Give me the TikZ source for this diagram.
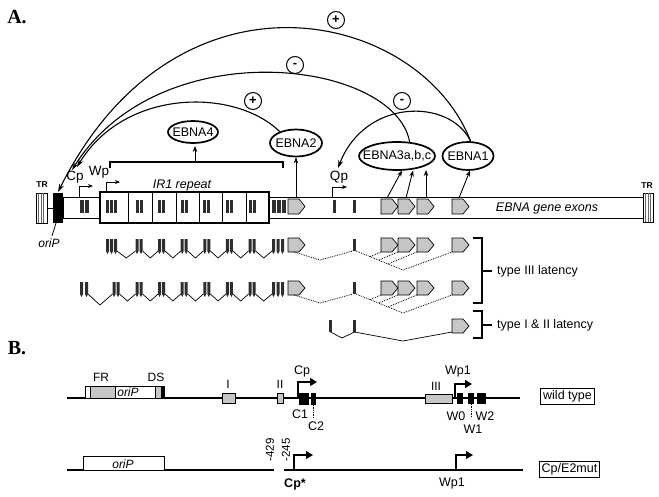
\documentclass[tikz,border=0pt]{standalone}
\usepackage{fontspec}
\setmainfont{Liberation Sans}
\newfontfamily\serifbf{Liberation Serif}
\usetikzlibrary{shapes.geometric,arrows.meta,calc}
\newcommand\pentx[3]{\draw[pent] (#1,#2) -- ({#1+11},#2) -- ({#1+17},{(#2+#3)/2}) -- ({#1+11},#3) -- (#1,#3) -- cycle;}
\newcommand\mbar[2]{\fill[exonfill] (#1,200) rectangle ({#1+#2},213);}
\newcommand\rbar[2]{\fill[exonfill] (#1,#2) -- ({#1+3},#2) -- ({#1+3},{#2+12}) -- ({#1+1.5},{#2+15}) -- (#1,{#2+12}) -- cycle;}
\newcommand\ptxt[1]{\makebox[0pt]{#1}}
\tikzset{
  fs/.style={font=\fontsize{#1}{#1}\selectfont},
  lbl/.style={inner sep=0pt, font=\fontsize{12.5}{14}\selectfont},
  prot/.style={draw, ellipse, line width=1.7pt, inner sep=0pt, font=\fontsize{12.5}{14}\selectfont},
  exonfill/.style={fill=black!82},
  pent/.style={fill=gray!45, draw=black, line width=0.7pt},
  arr/.style={-{Stealth[length=6pt,width=4.5pt]}, line width=0.9pt},
  arcl/.style={-{Stealth[length=8pt,width=5pt]}, line width=1.1pt},
  sgn/.style={circle, draw, line width=1pt, minimum size=17pt, inner sep=0pt, font=\bfseries\fontsize{13}{13}\selectfont},
  spl/.style={line width=0.7pt},
  dots/.style={densely dotted, line width=0.8pt},
  brk/.style={line width=1.6pt},
  prom/.style={line width=0.9pt, -{Stealth[length=5pt,width=4pt]}},
  promB/.style={line width=1.2pt, -{Triangle[length=7pt,width=8pt]}},
  chrom/.style={line width=1.5pt},
  tagbox/.style={draw, line width=0.8pt, inner sep=2.5pt, font=\fontsize{12.5}{14}\selectfont},
}
\begin{document}
\begin{tikzpicture}[x=1pt,y=-1pt]
\useasboundingbox (0,0) rectangle (659,496);
\fill[white] (0,0) rectangle (659,496);

\node[font=\serifbf\bfseries\fontsize{20}{20}\selectfont] (labA) at (17,17) {A.};
\node[font=\serifbf\bfseries\fontsize{20}{20}\selectfont] (labB) at (17,348) {B.};

% ---------- main genome bar ----------
\draw[line width=0.8pt] (47,208) -- (53,208);
\draw[line width=0.8pt, fill=white] (63,197) rectangle (643,218);
\draw[line width=0.8pt, fill=white] (36,193) rectangle (47,223);
\foreach \x in {38.5,41,43.5} \draw[line width=0.5pt, black!60] (\x,193) -- (\x,223);
\draw[line width=0.8pt, fill=white] (643,193) rectangle (653,222);
\foreach \x in {645.5,648,650.5} \draw[line width=0.5pt, black!60] (\x,193) -- (\x,222);
\fill (53,193) rectangle (63,223);
\node[font=\bfseries\fontsize{8.5}{9}\selectfont, inner sep=0pt] (trL) at (42,185) {TR};
\node[font=\bfseries\fontsize{8.5}{9}\selectfont, inner sep=0pt] (trR) at (647,186) {TR};
\node[lbl, font=\itshape\fontsize{12}{14}\selectfont] (oriPl) at (49,243) {oriP};
\draw[line width=0.8pt] (56,223) -- (52,236);

% IR1 repeat box
\draw[line width=1.6pt, fill=white] (100,192) rectangle (269,223);
\foreach \x in {128,152,176,199,222,246} \draw[line width=0.8pt] (\x,192) -- (\x,223);
\node[lbl, font=\itshape\fontsize{12.5}{14}\selectfont] (ir1) at (182,185) {IR1 repeat};

% exons on main bar
\mbar{80}{3.5}\mbar{85}{3.5}
\mbar{106}{3}\mbar{110}{3}\mbar{114}{3}
\foreach \c in {139,161.6,184.2,206.8,229.4,252} {\mbar{\c-3.5}{3}\mbar{\c+0.5}{3}}
\mbar{272}{3.5}\mbar{277}{3.5}\mbar{282}{3.5}
\mbar{333}{3}\mbar{353}{3}
\pentx{288}{199}{214}
\pentx{381}{199}{214}\pentx{398}{199}{214}\pentx{417}{199}{214}\pentx{452}{199}{214}
\node[lbl, font=\itshape\fontsize{12.5}{14}\selectfont] (exl) at (547,208) {EBNA gene exons};

% promoters
\node[lbl, fs=13.5] (cpL) at (75,177) {Cp};
\node[lbl, fs=13.5] (wpL) at (99,172) {Wp};
\node[lbl, fs=13.5] (qpL) at (339,177) {Qp};
\coordinate (cp0) at (79,197); \coordinate (cp1) at (79,186); \coordinate (cp2) at (93,186);
\coordinate (wp0) at (106,192); \coordinate (wp1) at (106,182); \coordinate (wp2) at (120,182);
\coordinate (qp0) at (332,197); \coordinate (qp1) at (332,187); \coordinate (qp2) at (347,187);
\draw[prom] (cp0) -- (cp1) -- (cp2);
\draw[prom] (wp0) -- (wp1) -- (wp2);
\draw[prom] (qp0) -- (qp1) -- (qp2);

% proteins
\node[prot, minimum width=50pt, minimum height=22pt] (ebna4) at (193,132) {\ptxt{EBNA4}};
\node[prot, minimum width=52pt, minimum height=27pt] (ebna2) at (296,143) {\ptxt{EBNA2}};
\node[prot, minimum width=76pt, minimum height=28pt] (ebna3) at (397,156) {\ptxt{EBNA3a,b,c}};
\node[prot, minimum width=51pt, minimum height=28pt] (ebna1) at (468,156) {\ptxt{EBNA1}};

% bracket to EBNA4
\draw[brk] (110,168) -- (110,162) -- (283,162) -- (283,168);
\coordinate (brc) at (195,162);
\draw[arr] (brc) -- (195,146);
\coordinate (e2x) at (296,197);
\draw[arr] (e2x) -- (ebna2.south);
\coordinate (e3a) at (387,198); \coordinate (e3b) at (406,198); \coordinate (e3c) at (426,198); \coordinate (e1x) at (459,198);
\draw[arr] (e3a) -- (402,170.5);
\draw[arr] (e3b) -- (413,170.5);
\draw[arr] (e3c) -- (426,170);
\draw[arr] (e1x) -- (470,170.5);

% regulatory arcs
\coordinate (oriTop) at (58,192);
\coordinate (cpA) at (72,170);
\coordinate (cpB) at (77,167);
\coordinate (qpT) at (338,168);
\draw[arcl] (ebna1.80) .. controls (420,10) and (177,-46) .. (oriTop);
\draw[arcl] (ebna3.48) .. controls (395,60) and (160,30) .. (cpA);
\draw[arcl] (ebna2.145) .. controls (235,88) and (125,88) .. (cpB);
\draw[arcl] (ebna1.80) .. controls (450,98) and (365,98) .. (qpT);
\node[sgn] (s1) at (336,20) {+};
\node[sgn] (s2) at (295,65) {-};
\node[sgn] (s3) at (253,101) {+};
\node[sgn] (s4) at (402,101) {-};

% ---------- transcripts ----------
% row 1
\foreach \x in {106,110,114} {\rbar{\x}{239}}
\foreach \c in {139,161.6,184.2,206.8,229.4,252} {\rbar{\c-3.5}{239}\rbar{\c+0.5}{239}}
\foreach \x in {272,276.5,281} {\rbar{\x}{239}}
\pentx{288}{238}{252}
\foreach \a/\b in {117/135.5,142.5/158.1,165.1/180.7,187.7/203.3,210.3/225.9,232.9/248.5,255.5/272}
  \draw[spl] (\a,251) -- ({(\a+\b)/2},258) -- (\b,251);
\fill[exonfill] (353,239) rectangle (356,251);
\foreach \x in {381,398,417,452} {\pentx{\x}{238}{252}}
\draw[dots] (294,252) -- (320,260) -- (353,251);
\draw[dots] (356,251) -- (403,270) -- (452,252);
\draw[dots] (381,252) -- (369.6,256.9);
\draw[dots] (398,252) -- (378.2,260.3);
\draw[dots] (417,252) -- (387.8,264);

% row 2
\rbar{80}{282}\rbar{85}{282}
\rbar{112.5}{282}\rbar{116.5}{282}
\foreach \c in {139,161.6,184.2,206.8,229.4,252} {\rbar{\c-3.5}{282}\rbar{\c+0.5}{282}}
\foreach \x in {272,276.5,281} {\rbar{\x}{282}}
\pentx{288}{281}{295}
\draw[spl] (88,294) -- (100,305) -- (112.5,294);
\foreach \a/\b in {119.5/135.5,142.5/158.1,165.1/180.7,187.7/203.3,210.3/225.9,232.9/248.5,255.5/272}
  \draw[spl] (\a,294) -- ({(\a+\b)/2},301) -- (\b,294);
\fill[exonfill] (353,282) rectangle (356,294);
\foreach \x in {381,398,417,452} {\pentx{\x}{281}{295}}
\draw[dots] (294,295) -- (320,303) -- (353,294);
\draw[dots] (356,294) -- (403,313) -- (452,295);
\draw[dots] (381,295) -- (369.6,299.9);
\draw[dots] (398,295) -- (378.2,303.3);
\draw[dots] (417,295) -- (387.8,307);

% row 3
\fill[exonfill] (329,320) rectangle (332,332);
\fill[exonfill] (353,320) rectangle (356,332);
\pentx{452}{319}{333}
\draw[spl] (330.5,332) -- (342,338) -- (354.5,332);
\draw[spl] (354.5,332) -- (403,341) -- (452,332);

% brackets
\draw[brk] (473,238) -- (482,238) -- (482,303) -- (473,303);
\draw[brk] (482,271) -- (492,271);
\node[lbl, anchor=west] (t3) at (497,271) {type III latency};
\draw[brk] (473,311) -- (482,311) -- (482,338) -- (473,338);
\draw[brk] (482,325) -- (492,325);
\node[lbl, anchor=west] (t12) at (497,325) {type I \& II latency};

% ---------- part B: wild type ----------
\draw[chrom] (67,398) -- (520,398);
\draw[line width=0.8pt, fill=white] (85,386) rectangle (164,398);
\fill[gray!45] (90,386) rectangle (115,398);
\fill[gray!45] (155,386) rectangle (161,398);
\fill (161,386) rectangle (164,398);
\draw[line width=0.8pt] (90,386) -- (90,398) (115,386) -- (115,398) (155,386) -- (155,398);
\draw[line width=0.8pt] (85,386) rectangle (164,398);
\node[lbl, font=\itshape\fontsize{12}{12}\selectfont] (oriPw) at (128,392) {oriP};
\node[lbl, fs=12] (fr) at (101,377) {FR};
\node[lbl, fs=12] (ds) at (156,377) {DS};
\draw[line width=0.8pt, fill=gray!45] (222,393) rectangle (235,403);
\node[lbl, fs=12] (rI) at (228,384) {I};
\draw[line width=0.8pt, fill=gray!45] (277,393) rectangle (283,403);
\node[lbl, fs=12] (rII) at (280,384) {II};
\coordinate (cb0) at (298,398); \coordinate (cb1) at (298,382); \coordinate (cb2) at (317,382);
\draw[promB] (cb0) -- (cb1) -- (cb2);
\node[lbl, fs=12.5] (cpB1) at (302,371) {Cp};
\fill (299,393) rectangle (309,405);
\fill (311,393) rectangle (316,405);
\draw[densely dotted, line width=0.7pt] (313.5,405) -- (313.5,418);
\node[lbl, fs=12.5] (c1) at (300,414) {C1};
\node[lbl, fs=12.5] (c2) at (316,426) {C2};
\draw[line width=0.8pt, fill=gray!45] (425,394) rectangle (452,403);
\node[lbl, fs=12] (rIII) at (436,386) {III};
\coordinate (wb0) at (455,398); \coordinate (wb1) at (455,384); \coordinate (wb2) at (472,384);
\draw[promB] (wb0) -- (wb1) -- (wb2);
\node[lbl, fs=12.5] (wp1a) at (458,371) {Wp1};
\fill (457,393) rectangle (463,404);
\fill (468,393) rectangle (474,404);
\fill (477,393) rectangle (486,404);
\draw[densely dotted, line width=0.7pt] (471,404) -- (471,416);
\node[lbl, fs=12.5] (w0) at (456,416) {W0};
\node[lbl, fs=12.5] (w2) at (485,416) {W2};
\node[lbl, fs=12.5] (w1) at (473,429) {W1};
\node[tagbox] (wt) at (567.5,396.5) {wild type};

% ---------- part B: Cp/E2mut ----------
\draw[chrom] (67,470) -- (274,470);
\draw[chrom] (284,470) -- (523,470);
\draw[line width=0.8pt, fill=white] (83,456) rectangle (164,470);
\node[lbl, font=\itshape\fontsize{12}{12}\selectfont] (oriPm) at (123,464) {oriP};
\node[lbl, fs=11.5, rotate=90] (m429) at (270,450) {-429};
\node[lbl, fs=11.5, rotate=90] (m245) at (286,450) {-245};
\coordinate (cm0) at (294,470); \coordinate (cm1) at (294,455); \coordinate (cm2) at (313,455);
\draw[promB] (cm0) -- (cm1) -- (cm2);
\node[lbl, font=\bfseries\fontsize{12.5}{14}\selectfont] (cpst) at (295,484) {Cp*};
\coordinate (wm0) at (456,470); \coordinate (wm1) at (456,455); \coordinate (wm2) at (473,455);
\draw[promB] (wm0) -- (wm1) -- (wm2);
\node[lbl, fs=12.5] (wp1b) at (452,483) {Wp1};
\node[tagbox] (mut) at (569.5,469.5) {Cp/E2mut};
\end{tikzpicture}
\end{document}
